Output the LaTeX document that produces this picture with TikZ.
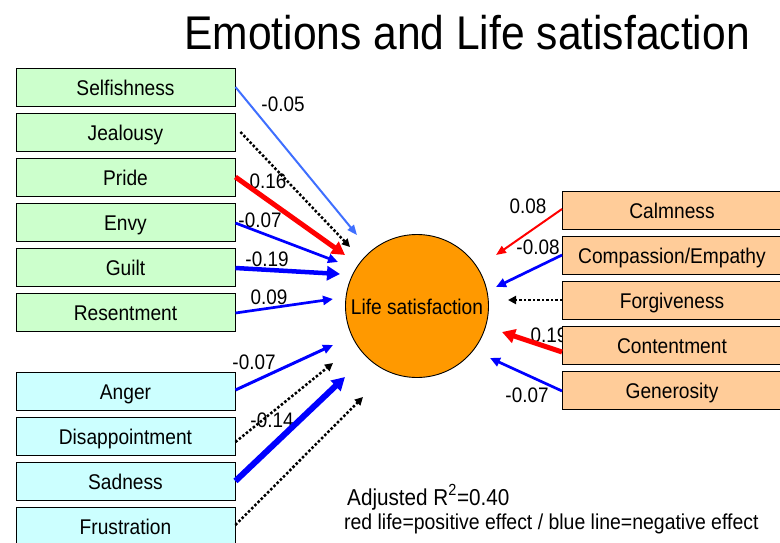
\documentclass[tikz,border=0pt]{standalone}
\usepackage{fontspec}
\setmainfont[FakeStretch=0.9]{Liberation Sans}
\usetikzlibrary{arrows.meta}
\definecolor{gfill}{HTML}{CCFFCC}
\definecolor{cfill}{HTML}{CCFFFF}
\definecolor{ofill}{HTML}{FFCC99}
\definecolor{circfill}{HTML}{FF9900}
\definecolor{lblue}{HTML}{3F6FFF}
\definecolor{dblue}{HTML}{0000FF}
\definecolor{dred}{HTML}{FF0000}
\begin{document}
\begin{tikzpicture}[x=1pt,y=-1pt,
  box/.style={draw=black, line width=0.9pt, minimum width=219pt, minimum height=38pt, inner sep=0pt, text height=16pt, text depth=0pt, font=\fontsize{21.3}{24}\selectfont},
  gbox/.style={box, fill=gfill},
  cbox/.style={box, fill=cfill},
  obox/.style={box, fill=ofill},
  lab/.style={inner sep=0pt, font=\fontsize{21}{24}\selectfont},
  thinarr/.style={line width=2pt, -{Triangle[length=10pt,width=8pt]}},
  midarr/.style={line width=2.7pt, -{Triangle[length=10pt,width=9pt]}},
  thickarr/.style={line width=5pt, -{Triangle[length=13pt,width=14pt]}},
  dotarr/.style={line width=2.5pt, dash pattern=on 2.5pt off 2pt, -{Triangle[length=8pt,width=8pt]}}
]
\useasboundingbox (0,0) rectangle (780,542);

% title
\node[anchor=base, inner sep=0pt, font=\fontsize{47.3}{52}\selectfont] (title) at (467,49) {Emotions and Life satisfaction};

% labels
\node[lab] (l-self) at (283,104) {-0.05};
\node[lab] (l-pride) at (268,181) {0.16};
\node[lab] (l-envy) at (260,220) {-0.07};
\node[lab] (l-guilt) at (267,259) {-0.19};
\node[lab] (l-res) at (269,297) {0.09};
\node[lab] (l-anger) at (254,362) {-0.07};
\node[lab] (l-sad) at (272,420) {-0.14};
\node[lab] (l-calm) at (528,206) {0.08};
\node[lab] (l-comp) at (538,247) {-0.08};
\node[lab] (l-cont) at (549,335) {0.19};
\node[lab] (l-gen) at (527,395) {-0.07};

% left boxes
\node[gbox] (self) at (125.5,87) {Selfishness};
\node[gbox] (jeal) at (125.5,132) {Jealousy};
\node[gbox] (pride) at (125.5,177) {Pride};
\node[gbox] (envy) at (125.5,222) {Envy};
\node[gbox] (guilt) at (125.5,267) {Guilt};
\node[gbox] (res) at (125.5,312) {Resentment};
\node[cbox] (anger) at (125.5,391) {Anger};
\node[cbox] (dis) at (125.5,436) {Disappointment};
\node[cbox] (sad) at (125.5,481) {Sadness};
\node[cbox] (fru) at (125.5,526) {Frustration};

% right boxes
\node[obox] (calm) at (672,210) {Calmness};
\node[obox] (comp) at (672,255) {Compassion/Empathy};
\node[obox] (forg) at (672,300) {Forgiveness};
\node[obox] (cont) at (672,345) {Contentment};
\node[obox] (gen) at (672,390) {Generosity};

% circle
\node[circle, draw=black, line width=0.9pt, fill=circfill, minimum size=143pt, inner sep=0pt, text height=16pt, text depth=0pt, font=\fontsize{21.3}{24}\selectfont] (ls) at (417,306) {Life satisfaction};

% arrow targets
\coordinate (t-self) at (357,235);
\coordinate (t-jeal) at (350,247);
\coordinate (t-pride) at (345,255);
\coordinate (t-envy) at (338,262);
\coordinate (t-guilt) at (340,274);
\coordinate (t-res) at (333,299);
\coordinate (t-anger) at (333,345);
\coordinate (t-dis) at (333,363);
\coordinate (t-sad) at (345,377);
\coordinate (t-fru) at (363,397);
\coordinate (t-calm) at (496,255);
\coordinate (t-comp) at (496,287);
\coordinate (t-forg) at (508,300);
\coordinate (t-cont) at (502,332);
\coordinate (t-gen) at (490,358);

% left arrows
\draw[thinarr, lblue] (self.east) -- (t-self);
\draw[dotarr, black] ([xshift=5pt]jeal.east) -- (t-jeal);
\draw[thickarr, dred] (pride.east) -- (t-pride);
\draw[midarr, dblue] ([yshift=-1pt]envy.east) -- (t-envy);
\draw[thickarr, dblue, line width=4.5pt] ([yshift=-1pt]guilt.east) -- (t-guilt);
\draw[midarr, dblue] ([yshift=-1pt]res.east) -- (t-res);
\draw[midarr, dblue, line width=3pt] ([yshift=1pt]anger.east) -- (t-anger);
\draw[dotarr, black] ([yshift=-6pt]dis.east) -- (t-dis);
\draw[thickarr, dblue, line width=6pt] (sad.east) -- (t-sad);
\draw[dotarr, black] ([yshift=1pt]fru.east) -- (t-fru);

% right arrows
\draw[thinarr, dred] ([yshift=1pt]calm.west) -- (t-calm);
\draw[midarr, dblue] (comp.west) -- (t-comp);
\draw[dotarr, black] (forg.west) -- (t-forg);
\draw[thickarr, dred] ([yshift=-7pt]cont.west) -- (t-cont);
\draw[midarr, dblue] ([yshift=-1pt]gen.west) -- (t-gen);

% bottom text
\node[anchor=base west, inner sep=0pt, font=\fontsize{23}{26}\selectfont] (adj) at (347,505) {Adjusted R\textsuperscript{2}=0.40};
\node[anchor=base west, inner sep=0pt, font=\fontsize{21.6}{24}\selectfont] (legend) at (344,529) {red life=positive effect / blue line=negative effect};
\end{tikzpicture}
\end{document}
